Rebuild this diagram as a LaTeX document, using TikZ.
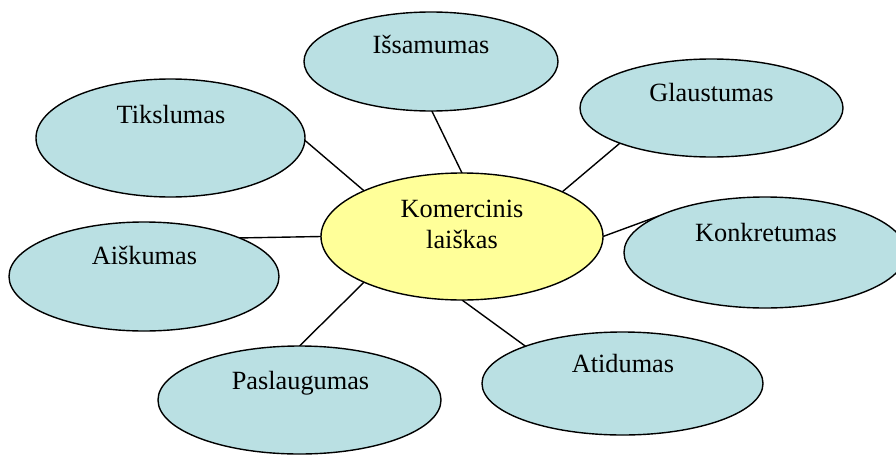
\documentclass[tikz,border=0pt]{standalone}
\usepackage{fontspec}
\setmainfont{Liberation Serif}
\usetikzlibrary{shapes.geometric,backgrounds}
\definecolor{bubble}{RGB}{186,224,227}
\definecolor{core}{RGB}{255,255,153}
\tikzset{
  bub/.style={ellipse, draw=black, line width=1.4pt, fill=bubble, inner sep=0pt, outer sep=0pt},
  corebub/.style={ellipse, draw=black, line width=1.4pt, fill=core, inner sep=0pt, outer sep=0pt},
  lbl/.style={anchor=base, inner sep=0pt, font=\fontsize{26.3}{31}\selectfont},
  link/.style={line width=1.4pt, draw=black}
}
\begin{document}
\begin{tikzpicture}[x=1pt,y=-1pt]
\useasboundingbox (0,0) rectangle (896,455);
% center
\node[corebub, minimum width=282pt, minimum height=127pt] (kom) at (462,236.5) {};
\node[lbl] (komt1) at (462,217) {Komercinis};
\node[lbl] (komt2) at (462,248) {laiškas};
% satellites
\node[bub, minimum width=254pt, minimum height=99pt] (iss) at (431,61.5) {};
\node[lbl] (isst) at (431,53) {Išsamumas};
\node[bub, minimum width=263pt, minimum height=98pt] (gla) at (711.5,108) {};
\node[lbl] (glat) at (711.5,101.5) {Glaustumas};
\node[bub, minimum width=269pt, minimum height=118pt] (tik) at (170.5,138) {};
\node[lbl] (tikt) at (171,123) {Tikslumas};
\node[bub, minimum width=282pt, minimum height=111pt] (kon) at (765,252.5) {};
\node[lbl] (kont) at (766,241) {Konkretumas};
\node[bub, minimum width=270pt, minimum height=109pt] (ais) at (144,276.5) {};
\node[lbl] (aist) at (144.5,264) {Aiškumas};
\node[bub, minimum width=283pt, minimum height=108pt] (pas) at (299.5,400) {};
\node[lbl] (past) at (300.5,389) {Paslaugumas};
\node[bub, minimum width=281pt, minimum height=103pt] (ati) at (622.5,383.5) {};
\node[lbl] (atit) at (623,372) {Atidumas};
% connectors behind
\begin{scope}[on background layer]
\draw[link] (tik.-1) -- (kom.155.5);
\draw[link] (iss.-89) -- (kom.90);
\draw[link] (gla.-159.5) -- (kom.24.2);
\draw[link] (kon.161.3) -- (kom.0);
\draw[link] (ais.22.4) -- (kom.180);
\draw[link] (pas.90) -- (kom.-155);
\draw[link] (ati.159) -- (kom.-90);
\end{scope}
\end{tikzpicture}
\end{document}
